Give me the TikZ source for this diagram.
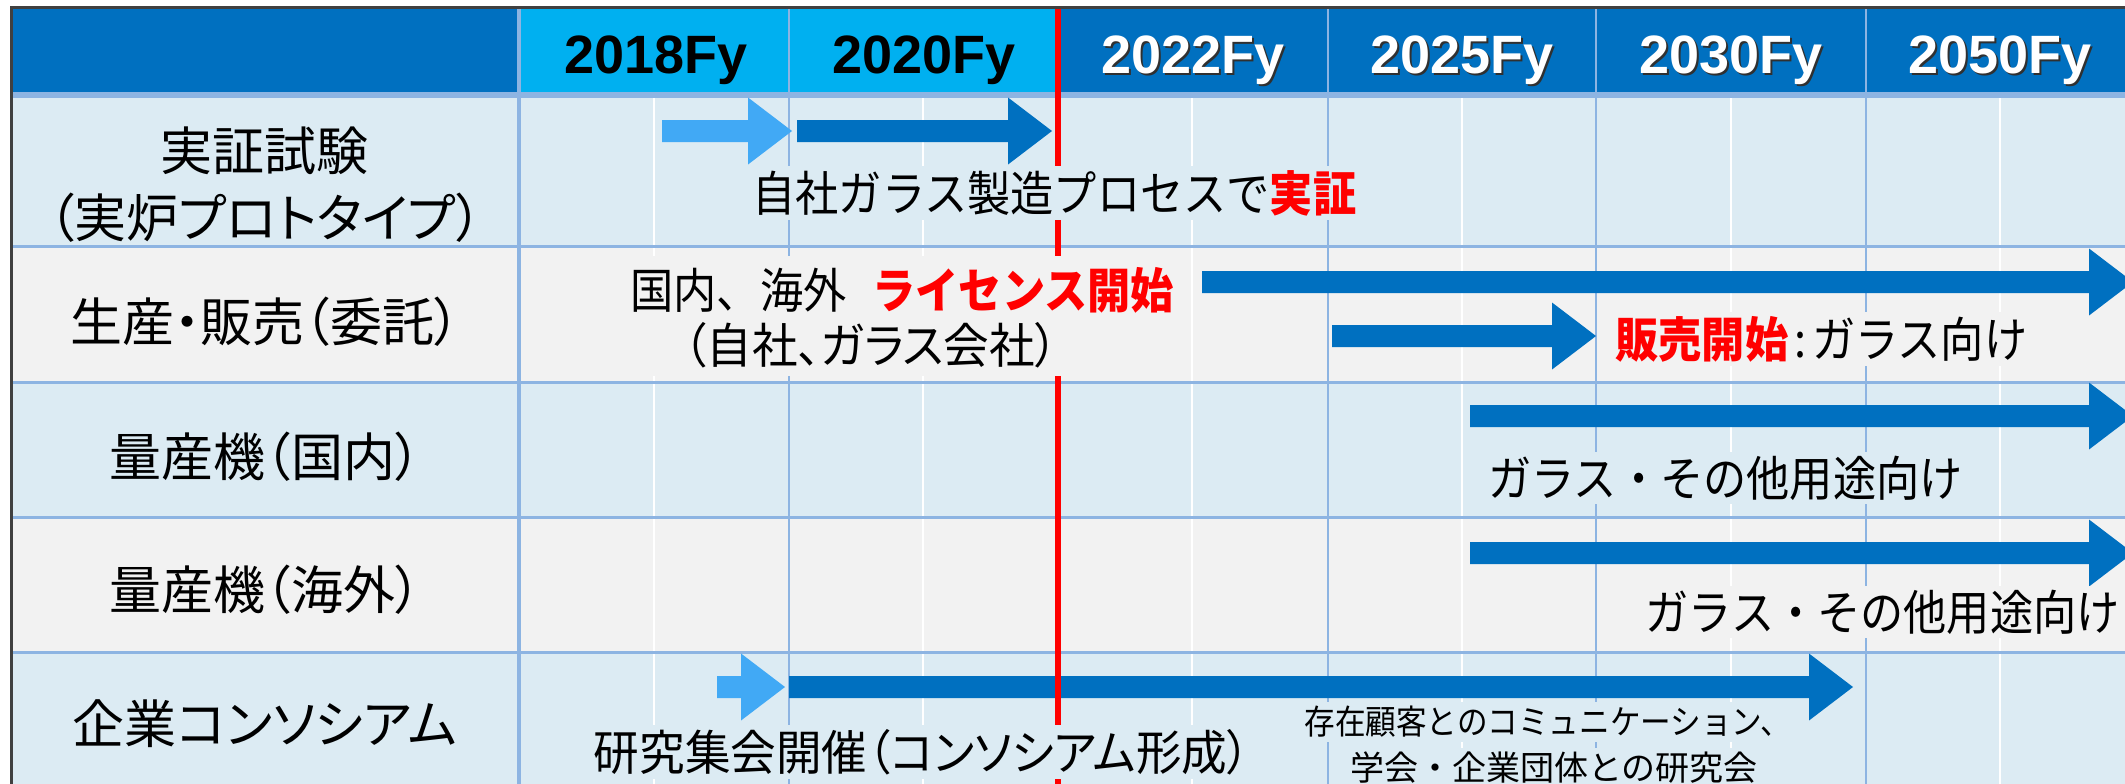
\documentclass[tikz,border=0pt]{standalone}
\usepackage{fontspec}
\setmainfont{Liberation Sans}
\newfontfamily\jpl[RawFeature=+palt]{Noto Sans CJK JP}
\newfontfamily\jplain{Noto Sans CJK JP}
\newfontfamily\jpb[FakeStretch=0.9]{Noto Sans CJK JP}
\newfontfamily\jpbp[FakeStretch=0.95,RawFeature=+palt]{Noto Sans CJK JP}
\newfontfamily\jps[FakeStretch=0.9]{Noto Sans CJK JP}
\definecolor{dblue}{HTML}{0070C0}
\definecolor{lblue}{HTML}{00B0F0}
\definecolor{arrlight}{HTML}{41A9F5}
\definecolor{rowblue}{HTML}{DCEBF3}
\definecolor{rowgray}{HTML}{F2F2F2}
\definecolor{gridblue}{HTML}{8DB4E2}
\definecolor{framegray}{HTML}{404040}
\definecolor{shadowgray}{HTML}{303030}
\newcommand{\blkarrow}[4]{%
  \fill[#4] (#1,#3-11) -- (#2-44,#3-11) -- (#2-44,#3-33.5) -- (#2,#3)
    -- (#2-44,#3+33.5) -- (#2-44,#3+11) -- (#1,#3+11) -- cycle;}
\tikzset{
  yearwhite/.style={font=\bfseries\fontsize{27}{30}\selectfont, text=white, anchor=base, inner sep=0pt},
  yearblack/.style={font=\bfseries\fontsize{27}{30}\selectfont, text=black, anchor=base, inner sep=0pt},
  yearshadow/.style={font=\bfseries\fontsize{27}{30}\selectfont, text=shadowgray, anchor=base, inner sep=0pt},
  rowlabel/.style={font=\jpl\fontsize{26}{33.5}\selectfont, align=center, inner sep=0pt},
  bodytext/.style={font=\jpb\fontsize{24}{30}\selectfont, inner sep=2pt},
  bodytextp/.style={font=\jpbp\fontsize{24}{30}\selectfont, inner sep=2pt},
  smalltext/.style={font=\jps\fontsize{17}{22}\selectfont, inner sep=2pt},
  smalltextw/.style={font=\jplain\fontsize{17}{22}\selectfont, inner sep=2pt},
  whiteline/.style={white, line width=1pt},
  majorline/.style={gridblue, line width=1pt},
  rowline/.style={gridblue, line width=1.5pt},
}
\begin{document}
\begin{tikzpicture}[x=0.5pt, y=-0.5pt]
\useasboundingbox (0,0) rectangle (2125,783);
\clip (0,0) rectangle (2125,783);
% background
\fill[white] (0,0) rectangle (2125,783);
% row backgrounds
\fill[rowblue] (11,92) rectangle (2140,246);
\fill[rowgray] (11,246) rectangle (2140,382);
\fill[rowblue] (11,382) rectangle (2140,517);
\fill[rowgray] (11,517) rectangle (2140,652);
\fill[rowblue] (11,652) rectangle (2140,800);
% half-column white lines
\foreach \x in {654,923,1192,1462,1731,2000}
  \draw[whiteline] (\x,98) -- (\x,800);
% major column lines
\foreach \x in {789,1328,1596,1866}
  \draw[majorline] (\x,98) -- (\x,800);
% row lines
\foreach \y in {246,382,517,652}
  \draw[rowline] (11,\y) -- (2140,\y);
% header
\fill[dblue] (11,8) rectangle (519,92);
\fill[lblue] (519,8) rectangle (1058,92);
\fill[dblue] (1058,8) rectangle (2140,92);
\fill[gridblue] (11,92) rectangle (2140,98);
\foreach \x in {789,1328,1596,1866}
  \draw[gridblue, line width=0.75pt] (\x,8) -- (\x,92);
\draw[gridblue, line width=2pt] (519,8) -- (519,800);
% year labels
\node[yearblack] (y2018) at (656,73) {2018Fy};
\node[yearblack] (y2020) at (924,73) {2020Fy};
\node[yearshadow] (s2022) at (1195,75.5) {2022Fy};
\node[yearwhite] (y2022) at (1193,73) {2022Fy};
\node[yearshadow] (s2025) at (1464,75.5) {2025Fy};
\node[yearwhite] (y2025) at (1462,73) {2025Fy};
\node[yearshadow] (s2030) at (1733,75.5) {2030Fy};
\node[yearwhite] (y2030) at (1731,73) {2030Fy};
\node[yearshadow] (s2050) at (2002,75.5) {2050Fy};
\node[yearwhite] (y2050) at (2000,73) {2050Fy};
% arrows
\blkarrow{662}{792}{131}{arrlight}
\blkarrow{797}{1052}{131}{dblue}
\blkarrow{1202}{2133}{282}{dblue}
\blkarrow{1332}{1596}{336}{dblue}
\blkarrow{1470}{2133}{416}{dblue}
\blkarrow{1470}{2133}{553}{dblue}
\blkarrow{717}{785}{687}{arrlight}
\blkarrow{789}{1853}{687}{dblue}
% red line
\draw[red, line width=3.2pt] (1058,8) -- (1058,800);
% text block background of row 2
\fill[rowgray] (622,256) rectangle (1190,376);
% body texts
\node[bodytext, fill=rowblue, anchor=west] (t1) at (748,193)
  {自社ガラス製造プロセスで{\bfseries\color{red}実証}};
\node[bodytext, anchor=west] (t2a) at (626,290)
  {国内、海外\hspace{13pt}{\bfseries\color{red}ライセンス開始}};
\node[bodytextp] (t2b) at (871,345)
  {（自社、ガラス会社）};
\node[bodytext, fill=rowgray, anchor=west] (t2c) at (1611,339)
  {{\bfseries\color{red}販売開始}\hspace{3pt}:\hspace{3pt}ガラス向け};
\node[bodytext, fill=rowblue, anchor=west] (t3) at (1484,478)
  {ガラス・その他用途向け};
\node[bodytext, fill=rowgray, anchor=west] (t4) at (1641,612)
  {ガラス・その他用途向け};
\node[bodytextp, fill=rowblue] (t5a) at (922,752)
  {研究集会開催（コンソシアム形成）};
\node[smalltext, fill=rowblue, anchor=west] (t5b) at (1300,722)
  {存在顧客とのコミュニケーション、};
\node[smalltextw, fill=rowblue] (t5c) at (1554,768)
  {学会・企業団体との研究会};
% row labels
\node[rowlabel] (l1) at (265,185) {実証試験\\（実炉プロトタイプ）};
\node[rowlabel] (l2) at (265,322) {生産・販売（委託）};
\node[rowlabel] (l3) at (265,457) {量産機（国内）};
\node[rowlabel] (l4) at (265,590) {量産機（海外）};
\node[rowlabel] (l5) at (265,724) {企業コンソシアム};
% frame
\draw[framegray, line width=1.5pt] (11,800) -- (11,7) -- (2140,7);
\end{tikzpicture}
\end{document}
